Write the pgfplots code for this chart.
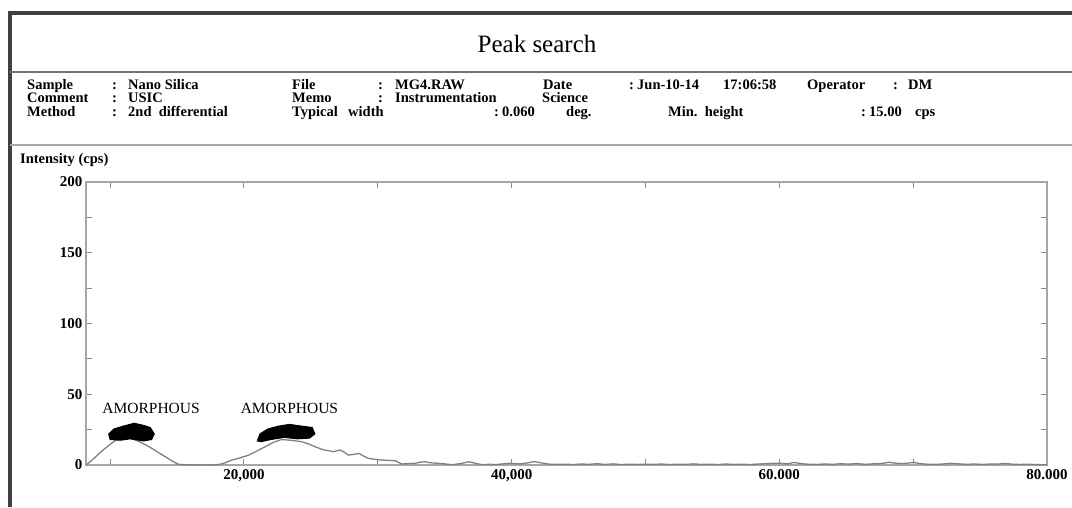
\documentclass[border=0pt]{standalone}
\usepackage{pgfplots}
\pgfplotsset{compat=1.18}
\usepackage{fontspec}
\setmainfont{Liberation Serif}
\begin{document}
\begin{tikzpicture}[x=1pt,y=1pt]
\useasboundingbox (0,0) rectangle (1072,507);
% frame
\draw[black!75, line width=4pt] (10,0) -- (10,493.5) -- (1072,493.5);
\draw[black!55, line width=1.8pt] (10,435) -- (1072,435);
\draw[black!35, line width=1.8pt] (10,362) -- (1072,362);
% title
\node[anchor=base, font=\fontsize{25}{25}\selectfont] at (537,454) {Peak search};
% header
\begin{scope}[every node/.style={anchor=base west, inner sep=0pt, font=\fontsize{14.5}{14.5}\selectfont\bfseries}]
\node at (27,417.5) {Sample};
\node at (112,417.5) {:};
\node at (128,417.5) {Nano Silica};
\node at (292,417.5) {File};
\node at (378,417.5) {:};
\node at (395,417.5) {MG4.RAW};
\node at (543,417.5) {Date};
\node at (629,417.5) {:};
\node at (637,417.5) {Jun-10-14};
\node at (723,417.5) {17:06:58};
\node at (807,417.5) {Operator};
\node at (893,417.5) {:};
\node at (908,417.5) {DM};
\node at (27,404) {Comment};
\node at (112,404) {:};
\node at (128,404) {USIC};
\node at (292,404) {Memo};
\node at (378,404) {:};
\node at (395,404) {Instrumentation};
\node at (542,404) {Science};
\node at (27,390.5) {Method};
\node at (112,390.5) {:};
\node at (128,390.5) {2nd\ \ differential};
\node at (292,390.5) {Typical};
\node at (348,390.5) {width};
\node at (494,390.5) {:};
\node at (502,390.5) {0.060};
\node at (566,390.5) {deg.};
\node at (668,390.5) {Min.\ \ height};
\node at (861,390.5) {:};
\node at (869,390.5) {15.00};
\node at (915,390.5) {cps};
\node at (20,343) {Intensity (cps)};
\end{scope}
\begin{axis}[
  at={(86pt,42pt)}, anchor=south west,
  scale only axis, width=961pt, height=283pt,
  xmin=8.2, xmax=80, ymin=0, ymax=200,
  xtick={10,20,...,80},
  xticklabels={{},{20,000},{},{40,000},{},{60.000},{},{80.000}},
  ytick={0,25,...,200},
  yticklabels={0,{},50,{},100,{},150,{},200},
  tick align=inside, major tick length=6pt,
  tick style={black!45, line width=1pt},
  axis line style={black!35, line width=1.6pt},
  ticklabel style={font=\fontsize{15}{15}\selectfont\bfseries},
  xticklabel style={yshift=-1pt},
  clip=false,
]
\addplot[black!50, line width=1.3pt] coordinates {
(8.2,0) (8.6,3) (9.0,6.5) (9.4,10) (9.8,13) (10.2,16) (10.6,18.5) (10.9,20) (11.3,19.5) (11.8,18) (12.3,16) (12.9,13) (13.5,9.5) (14.1,6) (14.6,3) (15.1,0.5) (15.6,0.2) (16.5,0) (17.5,0) (18.1,0.3) (18.6,1.5) (19.1,3.5) (19.7,5) (20.35,7) (21.0,10) (21.6,13) (22.2,16) (22.8,18) (23.5,17.5) (24.3,16.5) (24.8,15) (25.3,13) (25.7,11.5) (26.0,10.6) (26.4,10) (26.7,9.4) (27.0,10.2) (27.2,10.6) (27.5,9) (27.8,7) (28.2,7.5) (28.6,8.2) (28.9,6.5) (29.3,4.7) (29.8,4) (30.3,3.5) (30.8,3.3) (31.3,3) (31.8,0.7) (32.3,1) (32.8,1.2) (33.2,2) (33.5,2.3) (34.0,1.5) (34.5,1.2) (35.0,0.8) (35.5,0.2) (36.2,1) (36.8,2.3) (37.3,1.2) (37.8,0.2) (38.3,0.5) (38.8,0.3) (39.4,0.8) (39.9,1.2) (40.6,0.8) (41.2,1.5) (41.7,2.4) (42.2,1.5) (42.8,0.6) (43.4,0.4) (44,0.6) (44.6,0.3) (45.2,0.7) (45.8,0.5) (46.4,0.9) (47,0.4) (47.6,0.8) (48.2,0.3) (48.8,0.6) (49.4,0.4) (50.1,0.6) (50.6,0.4) (51.2,0.7) (51.8,0.3) (52.4,0.6) (53,0.4) (53.6,0.8) (54.2,0.4) (54.8,0.6) (55.4,0.3) (56,0.7) (56.6,0.4) (57.2,0.6) (57.8,0.3) (58.4,0.7) (59,0.9) (59.6,1.2) (60.1,1.2) (60.6,0.8) (61.1,1.8) (61.6,1) (62.2,0.5) (62.8,0.4) (63.4,0.7) (64,0.5) (64.6,0.9) (65.2,0.6) (65.8,1) (66.4,0.5) (67,0.8) (67.6,1) (68.2,1.9) (68.7,1.2) (69.2,1) (69.7,1.4) (70,1.9) (70.5,1) (71,0.6) (71.6,0.4) (72.2,0.7) (72.8,1.2) (73.4,0.8) (74,0.5) (74.6,0.7) (75.2,0.4) (75.8,0.7) (76.3,0.6) (76.8,1.1) (77.4,0.6) (78,0.4) (78.6,0.6) (79.2,0.3) (80,0.2)
};
\addplot[fill=black, draw=black, line width=1pt] coordinates {
(10.0,18) (9.9,22) (10.3,25.5) (11.0,27.5) (11.8,29.5) (12.5,28) (13.0,26.5) (13.3,22) (13.1,18) (12.5,17) (11.5,18.5) (10.8,17.5)
} -- cycle;
\addplot[fill=black, draw=black, line width=1pt] coordinates {
(21.0,17) (21.2,22) (21.8,25.5) (22.6,27.5) (23.4,28.7) (24.3,27.5) (25.1,26.5) (25.3,22) (24.9,19) (24.0,18.5) (23,19.5) (22,18) (21.3,16.5)
} -- cycle;
\node[font=\fontsize{15.5}{15.5}\selectfont] at (axis cs:13.06,40.3) {AMORPHOUS};
\node[font=\fontsize{15.5}{15.5}\selectfont] at (axis cs:23.4,40.3) {AMORPHOUS};
\end{axis}
\end{tikzpicture}
\end{document}
